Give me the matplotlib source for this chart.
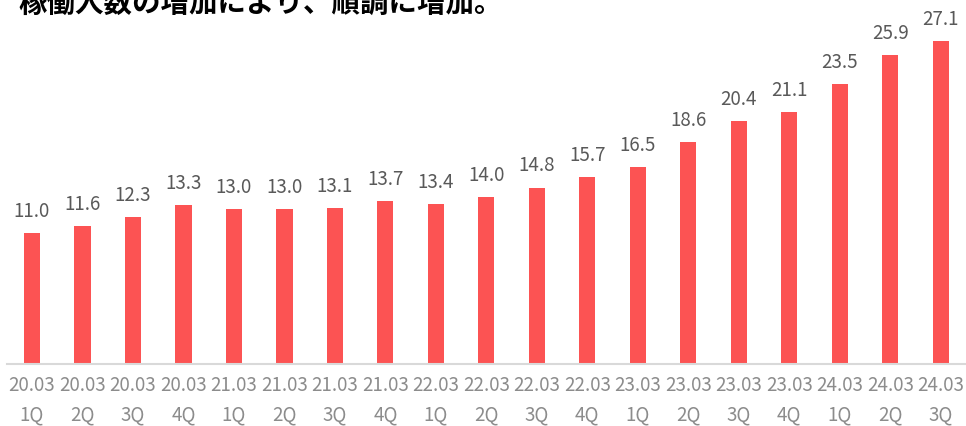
import matplotlib
import matplotlib.pyplot as plt

matplotlib.use("Agg")
plt.rcParams['font.family'] = ['Noto Sans CJK JP', 'DejaVu Sans']

title = "稼働人数の増加により、順調に増加。"
periods = ["20.03", "20.03", "20.03", "20.03", "21.03", "21.03", "21.03", "21.03",
           "22.03", "22.03", "22.03", "22.03", "23.03", "23.03", "23.03", "23.03",
           "24.03", "24.03", "24.03"]
quarters = ["1Q", "2Q", "3Q", "4Q"] * 4 + ["1Q", "2Q", "3Q"]
values = [11.0, 11.6, 12.3, 13.3, 13.0, 13.0, 13.1, 13.7, 13.4, 14.0,
          14.8, 15.7, 16.5, 18.6, 20.4, 21.1, 23.5, 25.9, 27.1]

fig = plt.figure(figsize=(9.66, 4.26), dpi=100)
ax = fig.add_axes([6.75 / 966, 62 / 426, 959.25 / 966, 357.6 / 426])

x = range(len(values))
ax.bar(x, values, width=0.32, color="#FC5353", zorder=2)

for i, v in enumerate(values):
    ax.annotate(f"{v:.1f}", (i, v), xytext=(0, 8), textcoords="offset points",
                ha="center", va="bottom", fontsize=13.5, color="#595959")

ax.set_xlim(-0.5, len(values) - 0.5)
ax.set_ylim(0, 30)
ax.set_xticks(list(x))
ax.set_xticklabels([f"{p}\n{q}" for p, q in zip(periods, quarters)],
                   fontsize=13.5, color="#8C8C8C", linespacing=1.5)
ax.tick_params(axis="x", length=0, pad=8)
ax.set_yticks([])
for s in ["top", "right", "left"]:
    ax.spines[s].set_visible(False)
ax.spines["bottom"].set_color("#D9D9D9")
ax.spines["bottom"].set_linewidth(1.5)

fig.text(18 / 966, 1 - 18 / 426, title, fontsize=20.5, fontweight="bold",
         color="black", ha="left", va="bottom")

fig.savefig("out.png", dpi=100)
